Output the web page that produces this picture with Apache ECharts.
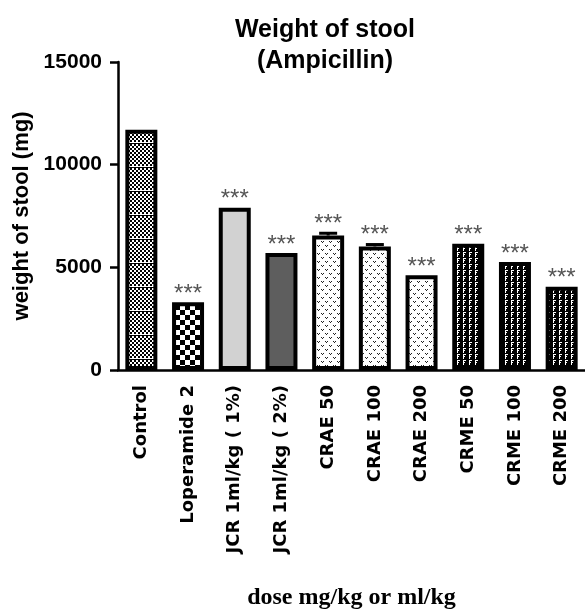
<!DOCTYPE html>
<html>
<head>
<meta charset="utf-8">
<script src="https://cdn.jsdelivr.net/npm/echarts@6/dist/echarts.min.js"></script>
<style>
  html, body { margin: 0; padding: 0; background: #fff; }
  #chart { width: 585px; height: 611px; }
</style>
</head>
<body>
<div id="chart"></div>
<script>
// data
const categories = ['Control', 'Loperamide 2', 'JCR 1ml/kg ( 1%)', 'JCR 1ml/kg ( 2%)', 'CRAE 50', 'CRAE 100', 'CRAE 200', 'CRME 50', 'CRME 100', 'CRME 200'];
const stoolWeight = [11700, 3300, 7900, 5700, 6550, 6020, 4610, 6150, 5260, 4050];
const semError = [0, 0, 0, 0, 110, 90, 0, 0, 0, 0];
const signif = ['', '***', '***', '***', '***', '***', '***', '***', '***', '***'];
const yTicks = [0, 5000, 10000, 15000];

function makeTile(w, h, draw) {
  const c = document.createElement('canvas');
  c.width = w; c.height = h;
  draw(c.getContext('2d'));
  return c;
}

// fine checker with white stripes
const controlTile = makeTile(4, 24, g => {
  g.fillStyle = '#000'; g.fillRect(0, 0, 4, 24);
  g.fillStyle = '#fff';
  for (let y = 0; y < 22; y += 2) {
    g.fillRect((y / 2) % 2 ? 2 : 0, y, 2, 2);
  }
  g.fillRect(0, 22, 4, 1);
});
// coarse checker
const checkerTile = makeTile(10, 10, g => {
  g.fillStyle = '#fff'; g.fillRect(0, 0, 10, 10);
  g.fillStyle = '#000'; g.fillRect(0, 0, 5, 5); g.fillRect(5, 5, 5, 5);
});
// white with small dark marks
const craeTile = makeTile(8, 8, g => {
  g.fillStyle = '#fff'; g.fillRect(0, 0, 8, 8);
  g.fillStyle = '#222';
  g.fillRect(1, 1, 1, 1); g.fillRect(3, 1, 1, 1); g.fillRect(2, 2, 1, 1);
  g.fillRect(5, 5, 1, 1); g.fillRect(7, 5, 1, 1); g.fillRect(6, 6, 1, 1);
});
// black with white F-like marks
const crmeTile = makeTile(6, 6, g => {
  g.fillStyle = '#000'; g.fillRect(0, 0, 6, 6);
  g.fillStyle = '#fff';
  g.fillRect(1, 0, 1, 5); g.fillRect(2, 0, 2, 1); g.fillRect(2, 2, 1, 1);
});

const fills = [
  { image: controlTile, repeat: 'repeat' },
  { image: checkerTile, repeat: 'repeat' },
  '#d2d2d2',
  '#5e5e5e',
  { image: craeTile, repeat: 'repeat' },
  { image: craeTile, repeat: 'repeat' },
  { image: craeTile, repeat: 'repeat' },
  { image: crmeTile, repeat: 'repeat' },
  { image: crmeTile, repeat: 'repeat' },
  { image: crmeTile, repeat: 'repeat' }
];

const chart = echarts.init(document.getElementById('chart'), null, { renderer: 'canvas' });

const option = {
  animation: false,
  backgroundColor: '#fff',
  title: {
    text: 'Weight of stool\n(Ampicillin)',
    left: 320,
    top: 10,
    textAlign: 'center',
    textStyle: {
      fontFamily: 'Liberation Sans, Arial, sans-serif',
      fontSize: 25,
      fontWeight: 'bold',
      lineHeight: 31,
      color: '#000'
    }
  },
  grid: { left: 118, right: 0, top: 62, bottom: 241, containLabel: false, outerBoundsMode: 'none' },
  xAxis: {
    type: 'category',
    data: categories,
    name: 'dose mg/kg or ml/kg',
    nameLocation: 'middle',
    nameGap: 216,
    nameTextStyle: {
      fontFamily: 'Liberation Serif, serif',
      fontWeight: 'bold',
      fontSize: 24,
      color: '#000'
    },
    axisLine: { lineStyle: { color: '#000', width: 2.5 } },
    axisTick: { alignWithLabel: true, length: 10, lineStyle: { color: '#000', width: 2.5 } },
    axisLabel: {
      rotate: 90,
      margin: 15,
      fontFamily: 'DejaVu Sans, sans-serif',
      fontWeight: 'bold',
      fontSize: 18,
      color: '#000'
    }
  },
  yAxis: {
    type: 'value',
    min: yTicks[0],
    max: yTicks[yTicks.length - 1],
    interval: yTicks[1] - yTicks[0],
    name: 'weight of stool (mg)',
    nameLocation: 'middle',
    nameRotate: 90,
    nameGap: 68,
    nameTextStyle: {
      fontFamily: 'Liberation Sans, Arial, sans-serif',
      fontWeight: 'bold',
      fontSize: 22,
      color: '#000'
    },
    axisLine: { show: true, lineStyle: { color: '#000', width: 2.5 } },
    axisTick: { show: true, length: 8, lineStyle: { color: '#000', width: 2.5 } },
    splitLine: { show: false },
    axisLabel: {
      margin: 16,
      formatter: v => String(v),
      fontFamily: 'Liberation Sans, Arial, sans-serif',
      fontWeight: 'bold',
      fontSize: 21,
      color: '#000'
    }
  },
  series: [
    {
      type: 'bar',
      barWidth: 32,
      data: stoolWeight.map((v, i) => ({
        value: v,
        itemStyle: { color: fills[i], borderColor: '#000', borderWidth: 4 },
        label: {
          show: signif[i] !== '',
          position: 'top',
          distance: semError[i] ? -1 : -4,
          formatter: signif[i],
          fontFamily: 'Liberation Sans, Arial, sans-serif',
          fontSize: 24,
          color: '#555'
        }
      })),
      z: 2
    },
    {
      type: 'custom',
      z: 3,
      data: categories.map((c, i) => [i, stoolWeight[i], semError[i]]),
      renderItem: function (params, api) {
        const e = api.value(2);
        if (!e) return null;
        const top = api.coord([api.value(0), api.value(1) + e]);
        const base = api.coord([api.value(0), api.value(1)]);
        return {
          type: 'group',
          children: [
            { type: 'line', shape: { x1: top[0], y1: top[1], x2: base[0], y2: base[1] }, style: { stroke: '#000', lineWidth: 3 } },
            { type: 'line', shape: { x1: top[0] - 9, y1: top[1], x2: top[0] + 9, y2: top[1] }, style: { stroke: '#000', lineWidth: 3 } }
          ]
        };
      }
    }
  ]
};

option && chart.setOption(option);
</script>
</body>
</html>
